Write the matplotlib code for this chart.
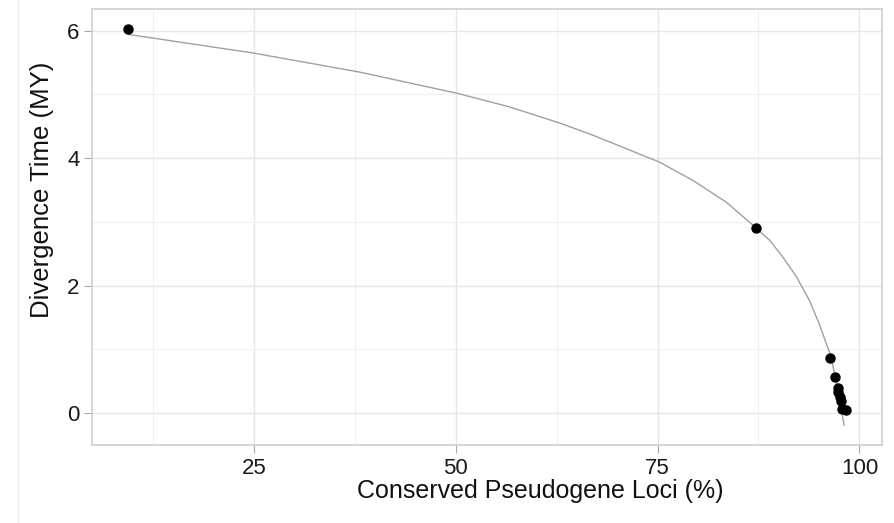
import matplotlib
matplotlib.use('Agg')
from matplotlib import pyplot as plt
from matplotlib.ticker import MultipleLocator

plt.rcParams['font.family'] = ['Liberation Sans', 'DejaVu Sans']

# observed points
conserved = [9.4, 87.2, 96.4, 97.0, 97.4, 97.4, 97.6, 97.7, 97.9, 98.3]
divergence = [6.02, 2.90, 0.87, 0.57, 0.40, 0.33, 0.25, 0.19, 0.06, 0.05]

# fitted curve
fit_x = [9.5, 24.9, 38.1, 50.1, 56.5, 62.9, 67.0, 71.1, 75.2, 79.4, 83.5,
         86.8, 88.9, 90.5, 92.2, 93.8, 95.0, 95.9, 96.5, 97.0, 97.5, 98.1]
fit_y = [5.94, 5.65, 5.35, 5.02, 4.81, 4.55, 4.36, 4.15, 3.94, 3.65, 3.31,
         2.95, 2.71, 2.45, 2.14, 1.77, 1.41, 1.09, 0.88, 0.57, 0.26, -0.19]

fig = plt.figure(figsize=(8.94, 5.23), dpi=100)
ax = fig.add_axes([0.1029, 0.1491, 0.8837, 0.8337])

ax.plot(fit_x, fit_y, color='#a0a0a0', lw=1.0, zorder=2, solid_joinstyle='round')
ax.plot(conserved, divergence, 'o', color='black', ms=6.5, zorder=3)

ax.set_xlim(4.95, 102.8)
ax.set_ylim(-0.5, 6.34)
ax.xaxis.set_major_locator(MultipleLocator(25))
ax.xaxis.set_minor_locator(MultipleLocator(12.5))
ax.yaxis.set_major_locator(MultipleLocator(2))
ax.yaxis.set_minor_locator(MultipleLocator(1))

ax.grid(which='major', color='#e6e6e6', lw=1.0, zorder=0)
ax.grid(which='minor', color='#f0f0f0', lw=0.8, zorder=0)
ax.set_axisbelow(True)
for s in ax.spines.values():
    s.set_color('#d0d0d0')
    s.set_linewidth(1.2)

ax.tick_params(which='major', length=6, color='#a8a8a8', labelsize=16,
               labelcolor='#1a1a1a', pad=3)
ax.tick_params(which='minor', length=0)

ax.set_xlabel('Conserved Pseudogene Loci (%)', fontsize=18, color='#111111')
ax.set_ylabel('Divergence Time (MY)', fontsize=18.5, color='#111111')
# titles sit off the panel centre in the original
ax.xaxis.set_label_coords(0.568, -0.078)
ax.yaxis.set_label_coords(-0.048, 0.585)

# thin line at the left edge of the image
fig.add_artist(plt.Line2D([0.0205, 0.0205], [0, 1], color='#ececec', lw=1,
                          transform=fig.transFigure))

fig.savefig('out.png', dpi=100)
